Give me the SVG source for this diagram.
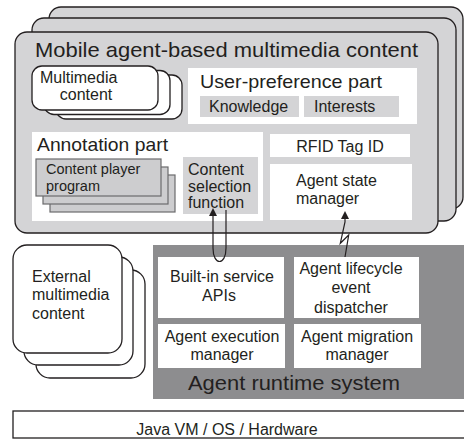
<svg xmlns="http://www.w3.org/2000/svg" width="464" height="447" viewBox="0 0 464 447">
<defs>
<style>
text{font-family:"Liberation Sans",Arial,Helvetica,sans-serif;fill:#231f20;font-size:16px}
.card{fill:#d4d4d6;stroke:#231f20;stroke-width:1.3}
.wcard{fill:#fff;stroke:#231f20;stroke-width:1.3}
.white{fill:#fff}
.gray{fill:#d4d4d6}
.player{fill:#cdcdcf;stroke:#6b6b6d;stroke-width:1.2}
.rt{fill:#8d8d8f}
.wire{fill:none;stroke:#231f20;stroke-width:1.2}
.big{font-size:21px}
.mid{font-size:19px}
.sm{font-size:14.5px}
.c{text-anchor:middle}
</style>
<marker id="ah" viewBox="0 0 8 8" refX="0" refY="4" markerWidth="8" markerHeight="8" markerUnits="userSpaceOnUse" orient="auto"><path d="M0,0 L8,4 L0,8 z" fill="#231f20"/></marker>
</defs>
<rect width="464" height="447" fill="#fff"/>

<g id="mobile-agent">
<rect class="card" x="49" y="7" width="414" height="202" rx="12"/>
<rect class="card" x="32" y="18" width="424" height="203" rx="12"/>
<rect class="card" x="15" y="32" width="423" height="201" rx="12"/>
<text class="big" x="35" y="57" textLength="383" lengthAdjust="spacingAndGlyphs">Mobile agent-based multimedia content</text>
</g>

<g id="multimedia-content">
<rect class="wcard" x="56" y="75" width="126" height="44" rx="10"/>
<rect class="wcard" x="44" y="70.5" width="126" height="44" rx="10"/>
<rect class="wcard" x="32" y="66" width="126" height="44" rx="10"/>
<text x="40" y="83">Multimedia</text>
<text class="c" x="86" y="100">content</text>
</g>

<g id="user-preference">
<rect class="white" x="188" y="68" width="229" height="56"/>
<text class="mid" x="200" y="88" textLength="182" lengthAdjust="spacingAndGlyphs">User-preference part</text>
<rect class="gray" x="200" y="96" width="99" height="21"/>
<text x="209" y="112">Knowledge</text>
<rect class="gray" x="304" y="96" width="95" height="21"/>
<text x="314" y="112">Interests</text>
</g>

<g id="annotation">
<rect class="white" x="32" y="132" width="231" height="89"/>
<text class="mid" x="37" y="151" textLength="131" lengthAdjust="spacingAndGlyphs">Annotation part</text>
</g>

<g id="content-player">
<rect class="player" x="50" y="175" width="125" height="37"/>
<rect class="player" x="43" y="167" width="125" height="37"/>
<rect class="player" x="36" y="159" width="125" height="37"/>
<text class="sm" x="46" y="174">Content player</text>
<text class="sm" x="46" y="190.5">program</text>
</g>

<g id="content-selection">
<rect class="gray" x="183" y="157" width="75" height="57"/>
<text x="188" y="175">Content</text>
<text x="188" y="192">selection</text>
<text x="188" y="208">function</text>
</g>

<g id="rfid">
<rect class="white" x="270" y="134" width="140" height="23"/>
<text class="c" x="340" y="152">RFID Tag ID</text>
</g>

<g id="agent-state-manager">
<rect class="white" x="270" y="164" width="142" height="56"/>
<text x="296" y="186">Agent state</text>
<text x="296" y="204">manager</text>
</g>

<g id="external-content">
<rect class="wcard" x="36" y="270" width="109" height="108" rx="14"/>
<rect class="wcard" x="24" y="257" width="109" height="108" rx="14"/>
<rect class="wcard" x="13" y="245" width="109" height="108" rx="14"/>
<text x="32" y="282">External</text>
<text x="32" y="300">multimedia</text>
<text x="32" y="319">content</text>
</g>

<g id="agent-runtime">
<rect class="rt" x="153" y="245" width="311" height="154"/>
<text class="big c" x="294" y="390" textLength="212" lengthAdjust="spacingAndGlyphs">Agent runtime system</text>
</g>

<g id="builtin-apis">
<rect class="white" x="158" y="257" width="126" height="61"/>
<text class="c" x="222" y="282">Built-in service</text>
<text class="c" x="219" y="301">APIs</text>
</g>

<g id="lifecycle-dispatcher">
<rect class="white" x="294" y="257" width="125" height="61"/>
<text class="c" x="351" y="274">Agent lifecycle</text>
<text class="c" x="351" y="293">event</text>
<text class="c" x="351" y="313">dispatcher</text>
</g>

<g id="execution-manager">
<rect class="white" x="158" y="324" width="127" height="44"/>
<text class="c" x="222" y="342">Agent execution</text>
<text class="c" x="222" y="360">manager</text>
</g>

<g id="migration-manager">
<rect class="white" x="294" y="324" width="127" height="44"/>
<text class="c" x="357" y="342">Agent migration</text>
<text class="c" x="357" y="360">manager</text>
</g>

<g id="java-vm">
<rect x="13" y="411" width="460" height="27" fill="#fff" stroke="#231f20" stroke-width="1.3"/>
<text class="c" x="227" y="435">Java VM / OS / Hardware</text>
</g>

<g id="connectors">
<path class="wire" d="M226,210 L226,248 C226,266 213,266 213,248 L213,216" marker-end="url(#ah)"/>
<path class="wire" d="M345,257 L348.7,235 L340.3,243.3 L345,222 L345,219" marker-end="url(#ah)"/>
</g>
</svg>
